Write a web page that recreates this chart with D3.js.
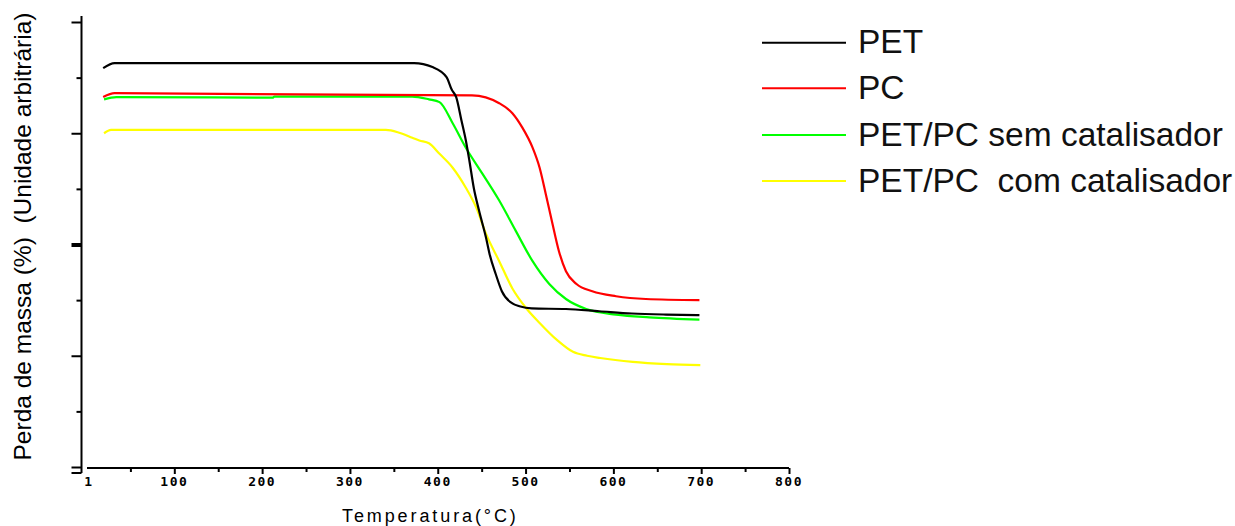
<!DOCTYPE html>
<html>
<head>
<meta charset="utf-8">
<script src="https://cdn.jsdelivr.net/npm/d3@7"></script>
<style>
  html, body { margin: 0; padding: 0; background: #fff; }
  svg { display: block; }
</style>
</head>
<body>
<svg id="chart" width="1235" height="526"></svg>
<script>
// ---- data ----
const seriesNames = ["PET", "PC", "PET/PC sem catalisador", "PET/PC  com catalisador"];
const seriesColors = ["#000000", "#ff0000", "#00ff00", "#ffff00"];

const petT   = [19, 32, 356, 373, 394, 410, 416, 421, 427, 432, 436, 441, 447, 455, 459, 466, 473, 485, 493, 507, 546, 584, 621, 660, 698];
const petV   = [71.7, 72.6, 72.6, 72.6, 71.9, 70.1, 67.8, 66.5, 62.3, 58.7, 55.1, 50.2, 46.1, 41.2, 38.3, 34.7, 31.6, 29.4, 28.9, 28.5, 28.4, 28.0, 27.6, 27.4, 27.3];

const pcT    = [19, 32, 439, 470, 485, 496, 508, 516, 523, 530, 538, 546, 558, 576, 603, 637, 698];
const pcV    = [66.5, 67.2, 66.8, 65.4, 63.6, 61.1, 57.4, 53.8, 49.1, 44.2, 38.8, 35.2, 32.9, 31.6, 30.7, 30.2, 30.0];

const semT   = [20, 34, 212, 214, 371, 390, 402, 417, 432, 451, 470, 489, 508, 527, 546, 569, 603, 641, 698];
const semV   = [66.1, 66.5, 66.4, 66.6, 66.6, 66.1, 65.6, 61.8, 57.4, 52.7, 47.9, 42.4, 37.0, 32.9, 30.2, 28.4, 27.4, 26.9, 26.5];

const comT   = [20, 28, 341, 356, 371, 379, 390, 402, 417, 432, 444, 455, 470, 485, 501, 516, 536, 554, 570, 585, 622, 661, 699];
const comV   = [60.0, 60.6, 60.6, 60.1, 59.2, 58.7, 58.2, 56.3, 53.8, 50.2, 46.6, 41.9, 37.0, 32.1, 28.5, 25.9, 22.8, 20.7, 20.0, 19.6, 18.9, 18.5, 18.3];

const xMajorTicks = [1, 100, 200, 300, 400, 500, 600, 700, 800];
const xTickLabels = ["1", "100", "200", "300", "400", "500", "600", "700", "800"];
const xMinorTicks = [50, 150, 250, 350, 450, 550, 650, 750];
const yMajorTicks = [0, 20, 40, 60, 80];
const yMinorTicks = [10, 30, 50, 70];

const xTitle = "Temperatura(°C)";
const yTitle = "Perda de massa (%)  (Unidade arbitrária)";

// ---- drawing ----
const svg = d3.select("#chart");
const x = d3.scaleLinear().domain([0, 800]).range([86.5, 789]);
const y = d3.scaleLinear().domain([0, 80]).range([467, 22]);
const axisX = 81.5;   // y-axis position
const axisY = 468;    // x-axis position

// Y axis
const gy = svg.append("g").attr("transform", `translate(${axisX},0)`);
gy.append("line").attr("x1", 0).attr("x2", 0).attr("y1", 16).attr("y2", 473)
  .attr("stroke", "#000").attr("stroke-width", 2);
gy.append("g").call(d3.axisLeft(y).tickValues(yMajorTicks).tickSize(10).tickFormat(""))
  .call(g => g.select(".domain").remove())
  .call(g => g.selectAll(".tick line").attr("stroke-width", d => d === 40 ? 4 : 2));
gy.append("g").call(d3.axisLeft(y).tickValues(yMinorTicks).tickSize(5).tickFormat(""))
  .call(g => g.select(".domain").remove())
  .call(g => g.selectAll(".tick line").attr("stroke-width", 2));
// bottom hook of y axis
gy.append("line").attr("x1", -10).attr("x2", 0).attr("y1", 473).attr("y2", 473)
  .attr("stroke", "#000").attr("stroke-width", 2);

// X axis
const gx = svg.append("g").attr("transform", `translate(0,${axisY})`);
gx.append("line").attr("x1", 87).attr("x2", x(800)).attr("y1", 0).attr("y2", 0)
  .attr("stroke", "#000").attr("stroke-width", 2);
gx.append("g").call(d3.axisBottom(x).tickValues(xMajorTicks.slice(1)).tickSize(6).tickFormat(""))
  .call(g => g.select(".domain").remove())
  .call(g => g.selectAll(".tick line").attr("stroke-width", 2));
gx.append("g").call(d3.axisBottom(x).tickValues(xMinorTicks).tickSize(4).tickFormat(""))
  .call(g => g.select(".domain").remove())
  .call(g => g.selectAll(".tick line").attr("stroke-width", 2));
gx.selectAll("text.xlab").data(xMajorTicks).enter().append("text")
  .attr("class", "xlab")
  .attr("x", d => x(d) + (d === 1 ? 1.5 : 0))
  .attr("y", 17.5)
  .attr("text-anchor", "middle")
  .attr("font-family", "'DejaVu Sans Mono', monospace")
  .attr("font-weight", "bold")
  .attr("font-size", 13)
  .attr("letter-spacing", 1.5)
  .attr("fill", "#000")
  .text((d, i) => xTickLabels[i]);

// axis titles
svg.append("text")
  .attr("x", 342).attr("y", 522)
  .attr("font-family", "'Liberation Sans', Arial, sans-serif")
  .attr("font-size", 18)
  .attr("letter-spacing", 2.9)
  .attr("fill", "#000")
  .text(xTitle);

svg.append("text")
  .attr("transform", "translate(31,236.5) rotate(-90)")
  .attr("text-anchor", "middle")
  .attr("font-family", "'Liberation Sans', Arial, sans-serif")
  .attr("font-size", 24.5)
  .attr("fill", "#000")
  .style("white-space", "pre")
  .text(yTitle);

// curves
const seriesData = [
  petT.map((t, i) => [t, petV[i]]),
  pcT.map((t, i) => [t, pcV[i]]),
  semT.map((t, i) => [t, semV[i]]),
  comT.map((t, i) => [t, comV[i]])
];
const line = d3.line().x(d => x(d[0])).y(d => y(d[1])).curve(d3.curveMonotoneX);
// draw order: yellow, green, red, black on top
[3, 2, 1, 0].forEach(i => {
  svg.append("path")
    .attr("d", line(seriesData[i]))
    .attr("fill", "none")
    .attr("stroke", seriesColors[i])
    .attr("stroke-width", 2.2);
});

// legend
const legY = [42.7, 88.3, 135, 181];
const lg = svg.append("g");
seriesNames.forEach((name, i) => {
  lg.append("line").attr("x1", 762).attr("x2", 846)
    .attr("y1", legY[i]).attr("y2", legY[i])
    .attr("stroke", seriesColors[i]).attr("stroke-width", 2);
  lg.append("text")
    .attr("x", 858).attr("y", legY[i] + 10.5)
    .attr("font-family", "'Liberation Sans', Arial, sans-serif")
    .attr("font-size", 33.5)
    .attr("fill", "#111")
    .style("white-space", "pre")
    .text(name);
});
</script>
</body>
</html>
